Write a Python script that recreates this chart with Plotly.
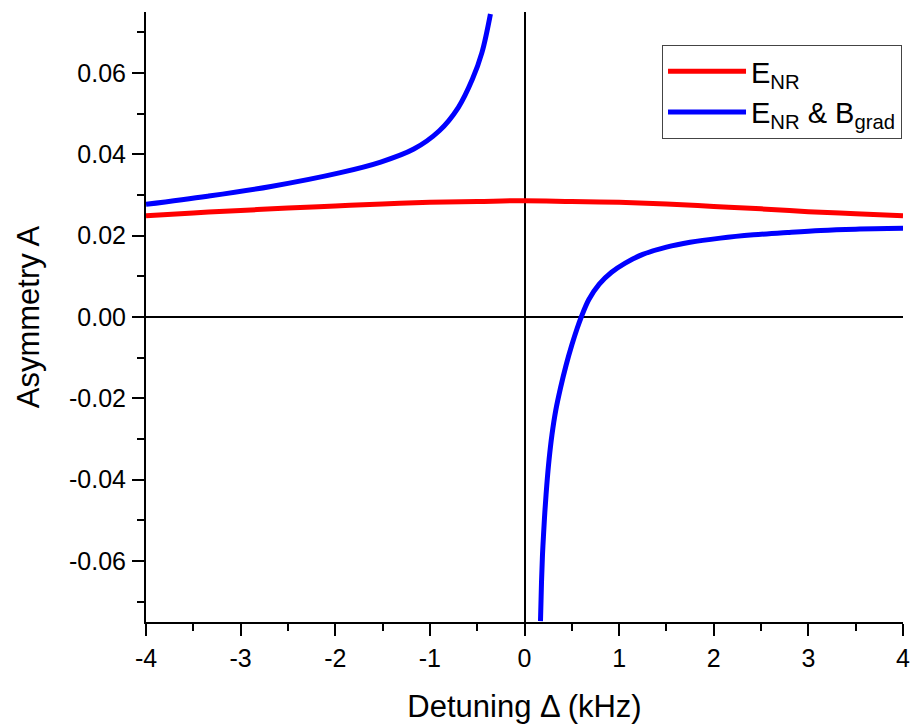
import plotly.graph_objects as go

# E_NR (red)
red_x = [-4, -3.5, -3, -2.5, -2, -1.5, -1, -0.5, 0, 0.5, 1, 1.5, 2, 2.5, 3, 3.5, 4]
red_y = [0.0249, 0.0256, 0.0262, 0.0268, 0.0273, 0.0278, 0.0282, 0.0284, 0.0286,
         0.0284, 0.0282, 0.0278, 0.0272, 0.0266, 0.0259, 0.0254, 0.0249]

# E_NR & B_grad (blue), left branch
blue_left_x = [-4, -3.35, -2.68, -1.945, -1.52, -1.17, -0.9, -0.7, -0.55, -0.45, -0.36]
blue_left_y = [0.0277, 0.0297, 0.0321, 0.0355, 0.0381, 0.0413, 0.0458, 0.0515, 0.0585, 0.065, 0.0745]

# E_NR & B_grad (blue), right branch
blue_right_x = [0.169, 0.18, 0.19, 0.20, 0.215, 0.235, 0.26, 0.29, 0.33, 0.38, 0.44, 0.50,
                0.555, 0.60, 0.68, 0.79, 0.92, 1.06, 1.25, 1.5, 1.75, 2.07, 2.42, 2.78,
                3.13, 3.5, 4.0]
blue_right_y = [-0.0748, -0.065, -0.0585, -0.0540, -0.0480, -0.0415, -0.0350, -0.0290, -0.0230,
                -0.0175, -0.0118, -0.0069, -0.0029, 0.0000, 0.0043, 0.0081, 0.0110, 0.0132,
                0.0154, 0.0172, 0.0184, 0.0194, 0.0202, 0.0208, 0.0213, 0.0216, 0.0218]

x_ticks = [-4, -3, -2, -1, 0, 1, 2, 3, 4]
x_tick_text = ["-4", "-3", "-2", "-1", "0", "1", "2", "3", "4"]
y_ticks = [-0.06, -0.04, -0.02, 0.0, 0.02, 0.04, 0.06]
y_tick_text = ["-0.06", "-0.04", "-0.02", "0.00", "0.02", "0.04", "0.06"]

RED = "#ff0000"
BLUE = "#0000ff"
FONT = "Arial, 'Liberation Sans', sans-serif"

fig = go.Figure()
fig.add_trace(go.Scatter(x=red_x, y=red_y, mode="lines", name="E<sub>NR</sub>",
                         legendgroup="a",
                         line=dict(color=RED, width=5, shape="spline")))
fig.add_trace(go.Scatter(x=blue_left_x, y=blue_left_y, mode="lines",
                         name="E<sub>NR</sub> &amp; B<sub>grad</sub>", legendgroup="b",
                         line=dict(color=BLUE, width=5, shape="spline")))
fig.add_trace(go.Scatter(x=blue_right_x, y=blue_right_y, mode="lines",
                         name="E<sub>NR</sub> &amp; B<sub>grad</sub>", legendgroup="b",
                         showlegend=False,
                         line=dict(color=BLUE, width=5, shape="spline")))

fig.update_layout(
    width=911, height=724,
    margin=dict(l=146, r=8, t=12, b=102),
    paper_bgcolor="white", plot_bgcolor="white",
    font=dict(family=FONT, color="black", size=25),
    legend=dict(x=0.9987, y=0.946, xanchor="right", yanchor="top",
                bordercolor="#444444", borderwidth=1, bgcolor="white",
                font=dict(size=29), itemwidth=78, traceorder="grouped",
                tracegroupgap=0),
    xaxis=dict(range=[-4, 4], tickvals=x_ticks, ticktext=x_tick_text, showgrid=False,
               showline=True, linecolor="black", linewidth=2, automargin=False,
               ticks="outside", ticklen=12, tickwidth=2, tickcolor="black",
               minor=dict(dtick=0.5, ticks="outside", ticklen=7, tickwidth=2, tickcolor="black"),
               zeroline=True, zerolinecolor="black", zerolinewidth=1.5,
               tickfont=dict(size=25), ticklabelstandoff=1,
               title=dict(text="Detuning \u0394 (kHz)", font=dict(size=31), standoff=27)),
    yaxis=dict(range=[-0.075, 0.075], tickvals=y_ticks, ticktext=y_tick_text, showgrid=False,
               showline=True, linecolor="black", linewidth=2, automargin=False,
               ticks="outside", ticklen=12, tickwidth=2, tickcolor="black",
               minor=dict(dtick=0.01, ticks="outside", ticklen=7, tickwidth=2, tickcolor="black"),
               zeroline=True, zerolinecolor="black", zerolinewidth=1.5,
               tickfont=dict(size=25), ticklabelstandoff=1,
               title=dict(text="Asymmetry A", font=dict(size=31), standoff=20)),
)

fig.write_html("out.html")
